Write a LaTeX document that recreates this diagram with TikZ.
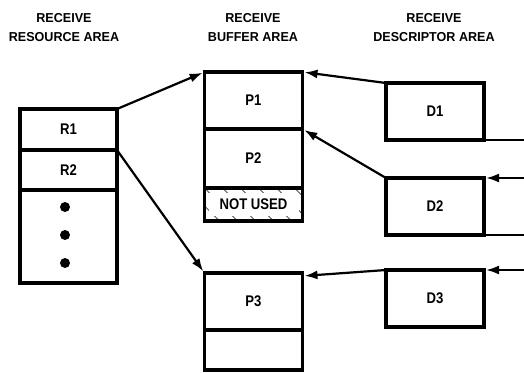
\documentclass[tikz,border=0pt]{standalone}
\usepackage{fontspec}
\newfontfamily\headfont{Liberation Sans}[FakeStretch=0.97]
\newfontfamily\cellfont{Liberation Sans}[FakeStretch=0.85]
\usetikzlibrary{positioning}
\usetikzlibrary{arrows.meta}

\tikzset{
  cell/.style={draw, line width=3.2bp, outer sep=0pt, inner sep=0pt,
    minimum width=98bp, font=\cellfont\bfseries\fontsize{15.5}{17}\selectfont},
  head/.style={align=center, font=\headfont\bfseries\fontsize{13}{19}\selectfont},
  link/.style={line width=2.2bp, -{Latex[length=13bp,width=9bp]}, shorten >=2bp},
  rim/.style={line width=2bp},
  dot/.style={circle, fill, inner sep=0pt, minimum size=10bp},
}

\begin{document}
\begin{tikzpicture}[x=1bp,y=-1bp]
\useasboundingbox (0,0) rectangle (524,372);

% headings
\node[head] (hres) at (64,28) {RECEIVE\\RESOURCE AREA};
\node[head] (hbuf) at (253,28) {RECEIVE\\BUFFER AREA};
\node[head] (hdesc) at (434,28) {RECEIVE\\DESCRIPTOR AREA};

% resource area
\node[cell, minimum width=97bp, minimum height=41bp] (r1) at (68.5,129.5) {R1};
\node[cell, minimum width=97bp, minimum height=40bp, below=0pt of r1] (r2) {R2};
\node[cell, minimum width=97bp, minimum height=93bp, below=0pt of r2] (rrest) {};
\foreach \i/\y in {1/207,2/235,3/263}
  \node[dot] (dot\i) at (65,\y) {};

% buffer area
\node[cell, minimum height=57bp] (p1) at (253.5,100.5) {P1};
\node[cell, minimum height=59bp, below=0pt of p1] (p2) {P2};
\node[cell, minimum height=33bp, below=0pt of p2] (nu) {};
\begin{scope}
  \clip (nu.north west) rectangle (nu.south east);
  \foreach \x in {0,18,...,126}
    \draw[line width=0.6bp] ([xshift=\x bp-18bp]nu.north west) -- ++(40,40);
\end{scope}
\node[fill=white, inner sep=0pt, minimum width=90bp, minimum height=23bp,
  font=\cellfont\bfseries\fontsize{15.5}{17}\selectfont] (nulabel) at (nu) {NOT USED};
\draw[line width=3.2bp] (nu.north west) rectangle (nu.south east);

\node[cell, minimum height=57bp] (p3) at (253.5,301.5) {P3};
\node[cell, minimum height=40bp, below=0pt of p3] (p4) {};

% descriptor area
\node[cell, minimum height=57bp] (d1) at (435,111.5) {D1};
\node[cell, minimum height=57bp] (d2) at (435,206.5) {D2};
\node[cell, minimum height=57bp] (d3) at (435,298.5) {D3};

\coordinate (edge) at (524,0);

\draw[link] (r1.north east) -- (p1.north west);
\draw[link] (r2.north east) -- (p3.north west);
\draw[link] (d1.north west) -- (p1.north east);
\draw[link] (d2.north west) -- (p2.north east);
\draw[link] (d3.north west) -- ([yshift=-3bp]p3.north east);

\draw[rim] (d1.south east) -- (d1.south east -| edge);
\draw[link] (d2.north east -| edge) -- (d2.north east);
\draw[rim] (d2.south east) -- (d2.south east -| edge);
\draw[link] (d3.north east -| edge) -- (d3.north east);
\end{tikzpicture}
\end{document}
